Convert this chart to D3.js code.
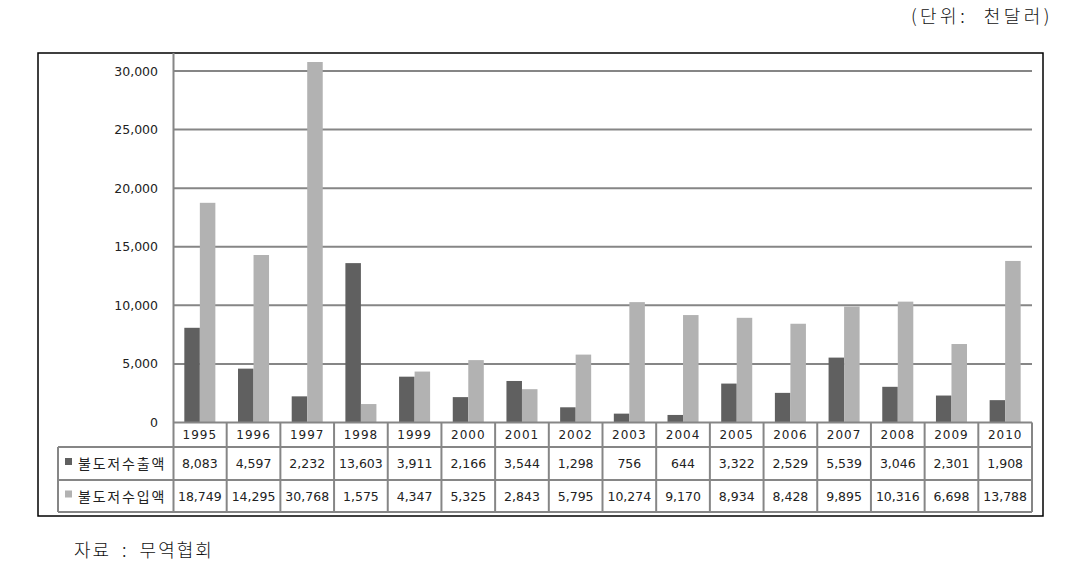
<!DOCTYPE html>
<html><head><meta charset="utf-8">
<script src="https://cdn.jsdelivr.net/npm/d3@7"></script>
<style>body{margin:0;background:#fff}svg{display:block}</style>
</head><body>
<svg id="c" width="1075" height="572"></svg>
<script>
const years = ["1995","1996","1997","1998","1999","2000","2001","2002","2003","2004","2005","2006","2007","2008","2009","2010"];
const seriesNames = ["불도저수출액","불도저수입액"];
const exportsV = [8083,4597,2232,13603,3911,2166,3544,1298,756,644,3322,2529,5539,3046,2301,1908];
const importsV = [18749,14295,30768,1575,4347,5325,2843,5795,10274,9170,8934,8428,9895,10316,6698,13788];
const yTicks = [0,5000,10000,15000,20000,25000,30000];
const colors = ["#606060","#b2b2b2"];
const unitText = "(단위: 천달러)";
const sourceText = "자료 : 무역협회";

const svg = d3.select("#c");
const fmt = d3.format(",");
const numFont = "'DejaVu Sans', Verdana, sans-serif";
const krFont = "'Noto Sans CJK KR', 'Noto Sans', sans-serif";

const x = d3.scaleBand().domain(years).range([173, 1032]).padding(0);
const x1 = d3.scaleBand().domain(seriesNames).range([0, x.bandwidth()]).paddingInner(0).paddingOuter(0.73);
const y = d3.scaleLinear().domain([0, 30000]).range([422.5, 71]);

// unit label
svg.append("text").attr("x", 1053).attr("y", 23).attr("text-anchor", "end")
  .attr("font-family", "'Noto Sans CJK KR', serif").attr("font-size", 18).attr("font-weight", 300)
  .attr("letter-spacing", 3.5).attr("word-spacing", 8).attr("fill", "#111").text(unitText);

// outer border
svg.append("rect").attr("x", 38).attr("y", 53).attr("width", 1005).attr("height", 463)
  .attr("fill", "none").attr("stroke", "#000").attr("stroke-width", 1.5);

// gridlines
svg.append("g").selectAll("line").data(yTicks.filter(d => d > 0)).join("line")
  .attr("x1", 173).attr("x2", 1032).attr("y1", d => y(d)).attr("y2", d => y(d))
  .attr("stroke", "#868686").attr("stroke-width", 2);

// y-axis tick labels
const yAxis = d3.axisLeft(y).tickValues(yTicks).tickFormat(fmt).tickSize(0).tickPadding(0);
const ga = svg.append("g").attr("transform", "translate(158,0)").call(yAxis);
ga.select(".domain").remove();
ga.selectAll("text").attr("font-family", numFont).attr("font-size", 12.5).attr("fill", "#222");

// bars
const data = years.map((yr, i) => ({yr, vals: [exportsV[i], importsV[i]]}));
const g = svg.append("g");
g.selectAll("g").data(data).join("g")
  .attr("transform", d => `translate(${x(d.yr)},0)`)
  .selectAll("rect").data(d => d.vals.map((v, j) => ({v, s: seriesNames[j], j}))).join("rect")
  .attr("x", d => x1(d.s)).attr("width", x1.bandwidth())
  .attr("y", d => y(d.v)).attr("height", d => y(0) - y(d.v))
  .attr("fill", d => colors[d.j]);

// y axis line
svg.append("line").attr("x1", 173.5).attr("x2", 173.5).attr("y1", 53).attr("y2", 512)
  .attr("stroke", "#868686").attr("stroke-width", 2);

// data table
const rowY = [422.5, 447, 480, 512];
const tbl = svg.append("g");
const lineC = "#868686";
tbl.append("line").attr("x1", 173).attr("x2", 1032).attr("y1", rowY[0]).attr("y2", rowY[0]).attr("stroke", lineC).attr("stroke-width", 2);
[1,2,3].forEach(k => {
  tbl.append("line").attr("x1", 58).attr("x2", 1032).attr("y1", rowY[k]).attr("y2", rowY[k]).attr("stroke", lineC).attr("stroke-width", 2);
});
tbl.append("line").attr("x1", 58).attr("x2", 58).attr("y1", rowY[1]).attr("y2", rowY[3]).attr("stroke", lineC).attr("stroke-width", 2);
tbl.selectAll("line.v").data(years).join("line").attr("class", "v")
  .attr("x1", d => x(d) + x.bandwidth()).attr("x2", d => x(d) + x.bandwidth())
  .attr("y1", rowY[0]).attr("y2", rowY[3]).attr("stroke", lineC).attr("stroke-width", 2);

// year labels
tbl.selectAll("text.yr").data(years).join("text").attr("class", "yr")
  .attr("x", d => x(d) + x.bandwidth() / 2).attr("y", (rowY[0] + rowY[1]) / 2 + 4.5)
  .attr("text-anchor", "middle").attr("font-family", numFont).attr("font-size", 12)
  .attr("letter-spacing", 1).attr("fill", "#222").text(d => d);

// value rows
[exportsV, importsV].forEach((arr, k) => {
  const cy = (rowY[k + 1] + rowY[k + 2]) / 2 + 4.5;
  tbl.append("g").selectAll("text").data(arr).join("text")
    .attr("x", (d, i) => x(years[i]) + x.bandwidth() / 2).attr("y", cy)
    .attr("text-anchor", "middle").attr("font-family", numFont).attr("font-size", 12.5)
    .attr("fill", "#222").text(d => fmt(d));
  tbl.append("rect").attr("x", 65).attr("y", cy - 10).attr("width", 7).attr("height", 7).attr("fill", colors[k]);
  tbl.append("text").attr("x", 78).attr("y", cy + 1).attr("font-family", krFont).attr("font-size", 14)
    .attr("letter-spacing", 1.8).attr("fill", "#222").text(seriesNames[k]);
});

// source
svg.append("text").attr("x", 74).attr("y", 557).attr("font-family", krFont).attr("font-size", 18)
  .attr("font-weight", 300).attr("letter-spacing", 2).attr("word-spacing", 5).attr("fill", "#111").text(sourceText);
</script>
</body></html>
